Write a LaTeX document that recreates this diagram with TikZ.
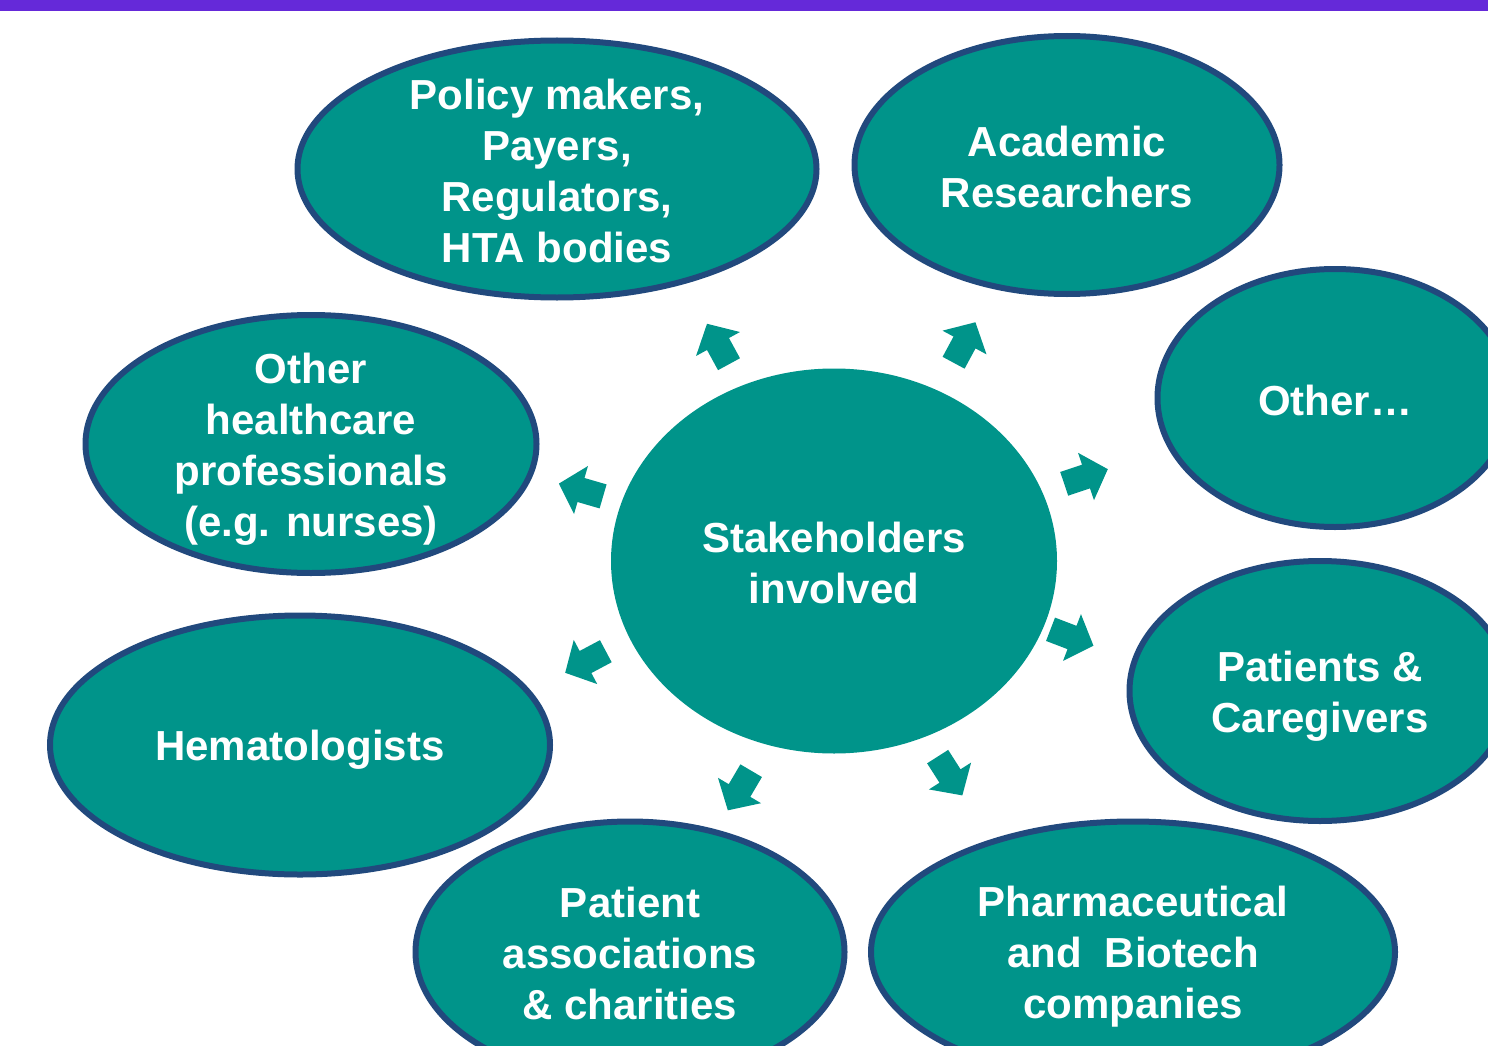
\documentclass[tikz,border=0pt]{standalone}
\usepackage{fontspec}
\setmainfont{Liberation Sans}
\usetikzlibrary{shapes.geometric}
\definecolor{tealfill}{RGB}{0,148,138}
\definecolor{navyline}{RGB}{33,73,125}
\definecolor{barpurple}{RGB}{101,41,217}
\tikzset{
  oval/.style={ellipse, fill=tealfill, draw=navyline, line width=6pt, inner sep=0pt},
  coreoval/.style={ellipse, fill=tealfill, inner sep=0pt},
  txt/.style={text=white, align=center, font=\fontsize{42}{51}\selectfont\bfseries, inner sep=0pt},
  blockarrow/.pic={\fill[tealfill] (-23,-12.5) -- (0,-12.5) -- (0,-25) -- (23,0) -- (0,25) -- (0,12.5) -- (-23,12.5) -- cycle;}
}
\begin{document}
\begin{tikzpicture}[x=1pt,y=-1pt]
\useasboundingbox (0,0) rectangle (1488,1046);
\clip (0,0) rectangle (1488,1046);
\fill[barpurple] (0,0) rectangle (1488,11);
% ovals
\node[oval, minimum width=519pt, minimum height=257pt] (pol) at (557,169) {};
\node[oval, minimum width=425pt, minimum height=258pt] (aca) at (1067,165) {};
\node[oval, minimum width=355pt, minimum height=258pt] (oth) at (1335,398) {};
\node[oval, minimum width=451pt, minimum height=258pt] (hcp) at (311,444) {};
\node[coreoval, minimum width=446pt, minimum height=385pt] (core) at (834,561) {};
\node[oval, minimum width=381pt, minimum height=260pt] (pat) at (1320,691) {};
\node[oval, minimum width=500pt, minimum height=259pt] (hem) at (300,745) {};
\node[oval, minimum width=429pt, minimum height=261pt] (ass) at (630,952) {};
\node[oval, minimum width=524pt, minimum height=261pt] (pha) at (1133,952) {};
% texts
\node[txt] (polt) at ([yshift=-2pt]pol.center) {Policy makers,\\Payers,\\Regulators,\\HTA bodies};
\node[txt] (acat) at ([yshift=-2pt]aca.center) {Academic\\Researchers};
\node[txt] (otht) at ([yshift=-2pt]oth.center) {Other…};
\node[txt] (hcpt) at ([yshift=-5pt]hcp.center) {Other\\healthcare\\professionals\\(e.g. nurses)};
\node[txt] (coret) at ([yshift=-2pt]core.center) {Stakeholders\\involved};
\node[txt] (patt) at ([yshift=-5pt]pat.center) {Patients \&\\Caregivers};
\node[txt] (hemt) at ([yshift=-5pt]hem.center) {Hematologists};
\node[txt] (asst) at ([yshift=-1pt]ass.center) {Patient\\associations\\\& charities};
\node[txt] (phat) at ([yshift=-5pt]pha.center) {Pharmaceutical\\and~~Biotech\\companies};
% arrows
\pic[rotate=118.6] (a1) at (718,344) {blockarrow};
\pic[rotate=61.7] (a2) at (964.5,342.5) {blockarrow};
\pic[rotate=163.8] (a3) at (581,490) {blockarrow};
\pic[rotate=208] (a4) at (585.5,662) {blockarrow};
\pic[rotate=18.6] (a5) at (1086,476.5) {blockarrow};
\pic[rotate=-21] (a6) at (1072,637.5) {blockarrow};
\pic[rotate=239.5] (a7) at (739.5,790.5) {blockarrow};
\pic[rotate=-57.5] (a8) at (950,776) {blockarrow};
\end{tikzpicture}
\end{document}
